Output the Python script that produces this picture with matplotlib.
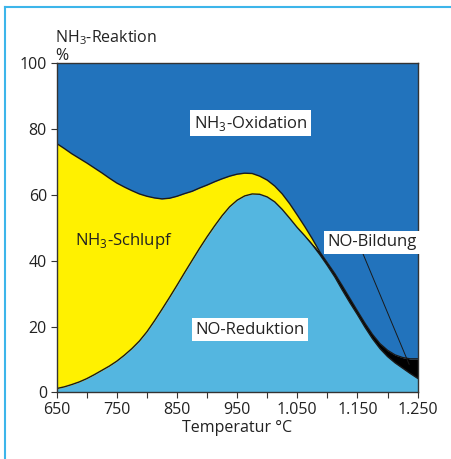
import matplotlib
matplotlib.use('Agg')
import numpy as np
import matplotlib.pyplot as plt
from matplotlib.lines import Line2D
from matplotlib.ticker import MultipleLocator, FuncFormatter

plt.rcParams['font.family'] = ['Open Sans', 'DejaVu Sans']
plt.rcParams['mathtext.fontset'] = 'custom'
plt.rcParams['mathtext.rm'] = 'Open Sans'

# temperature in degC
temp = [650, 662.5, 675, 687.5, 700, 712.5, 725, 737.5, 750, 762.5, 775, 787.5,
        800, 812.5, 825, 837.5, 850, 862.5, 875, 887.5, 900, 912.5, 925, 937.5,
        950, 962.5, 975, 987.5, 1000, 1012.5, 1025, 1037.5, 1050, 1062.5, 1075, 1087.5,
        1100, 1112.5, 1125, 1137.5, 1150, 1162.5, 1175, 1187.5, 1200, 1212.5, 1225, 1237.5,
        1250]
# shares in %, stacked from the bottom
no_reduktion = [1.2, 1.7, 2.4, 3.2, 4.2, 5.4, 6.7, 8.0, 9.5, 11.3, 13.3, 15.6,
                18.4, 21.7, 25.2, 28.8, 32.5, 36.3, 40.0, 43.7, 47.2, 50.5, 53.6, 56.3,
                58.3, 59.6, 60.2, 60.1, 59.3, 57.8, 55.5, 52.8, 50.0, 47.5, 44.8, 41.8,
                38.5, 35.0, 31.0, 27.2, 23.6, 19.8, 16.3, 13.3, 10.9, 9.0, 7.4, 5.8,
                4.3]
no_bildung = [0, 0, 0, 0, 0, 0, 0, 0, 0, 0, 0, 0,
              0, 0, 0, 0, 0, 0, 0, 0, 0, 0, 0, 0,
              0, 0, 0, 0, 0, 0, 0, 0, 0.1, 0.2, 0.4, 0.8,
              0.8, 1.0, 1.3, 1.3, 1.1, 1.2, 1.3, 1.5, 1.9, 2.4, 3.2, 4.4,
              5.9]
nh3_schlupf = [74.3, 72.3, 70.0, 67.8, 65.4, 62.7, 59.9, 57.0, 54.0, 51.0, 47.9, 44.6,
               41.1, 37.3, 33.5, 30.1, 27.0, 24.0, 21.0, 18.3, 15.7, 13.4, 11.2, 9.3,
               7.9, 6.9, 6.2, 5.5, 5.1, 4.8, 4.7, 4.4, 3.7, 2.6, 1.4, 0,
               0, 0, 0, 0, 0, 0, 0, 0, 0, 0, 0, 0,
               0]

x_ticks = [650, 750, 850, 950, 1050, 1150, 1250]
y_ticks = [0, 20, 40, 60, 80, 100]

t = np.array(temp)
b1 = np.array(no_reduktion)
b2 = b1 + np.array(no_bildung)
b3 = b2 + np.array(nh3_schlupf)

c_dark = '#2273bc'
c_light = '#54b6e0'
c_yellow = '#fff100'
c_text = '#222222'

fig = plt.figure(figsize=(4.52, 4.59), dpi=100)
ax = fig.add_axes([0.1254, 0.1449, 0.7985, 0.7185])

ax.fill_between(t, 0, b1, color=c_light, lw=0)
ax.fill_between(t, b1, b2, color='black', lw=0)
ax.fill_between(t, b2, b3, color=c_yellow, lw=0)
ax.fill_between(t, b3, 100, color=c_dark, lw=0)
ax.plot(t, b1, color='#1a1a1a', lw=1.0)
ax.plot(t, b3, color='#1a1a1a', lw=1.0)

ax.set_xlim(650, 1250)
ax.set_ylim(0, 100)
ax.set_xticks(x_ticks)
ax.xaxis.set_minor_locator(MultipleLocator(50))
ax.set_yticks(y_ticks)
ax.xaxis.set_major_formatter(FuncFormatter(lambda v, p: f'{int(v):,}'.replace(',', '.')))
ax.tick_params(which='both', direction='out', length=4, width=0.8, colors='#333333',
               labelsize=11.5, labelcolor=c_text, pad=3)
for s in ax.spines.values():
    s.set_linewidth(1.0)
    s.set_color('#333333')

ax.set_xlabel('Temperatur °C', fontsize=11.5, color=c_text, labelpad=1)
fig.text(0.122, 0.907, 'NH$_\\mathregular{3}$-Reaktion', fontsize=11.5, color=c_text, ha='left', va='baseline')
fig.text(0.122, 0.870, '%', fontsize=11.5, color=c_text, ha='left', va='baseline')

box = dict(facecolor='white', edgecolor='none', pad=2.5)
ax.text(972, 81.7, 'NH$_\\mathregular{3}$-Oxidation', fontsize=12, color=c_text,
        ha='center', va='center', bbox=box)
ax.text(971, 19, 'NO-Reduktion', fontsize=12, color=c_text, ha='center', va='center', bbox=box)
ax.text(762, 45.8, 'NH$_\\mathregular{3}$-Schlupf', fontsize=12, color=c_text, ha='center', va='center')
ax.annotate('NO-Bildung', xy=(1236, 8.5), xytext=(1249, 45.5), fontsize=12, color=c_text,
            ha='right', va='center', bbox=box,
            arrowprops=dict(arrowstyle='-', color='#1a1a1a', lw=0.7,
                            shrinkA=0, shrinkB=0, relpos=(0.38, 0)))

# light blue frame on the left and top
fig.add_artist(Line2D([5.5 / 452, 5.5 / 452], [0, 1 - 7 / 459], color='#3db5ea', lw=1.5))
fig.add_artist(Line2D([5.5 / 452, 1], [1 - 7 / 459, 1 - 7 / 459], color='#3db5ea', lw=1.5))

fig.savefig('out.png', dpi=100)
